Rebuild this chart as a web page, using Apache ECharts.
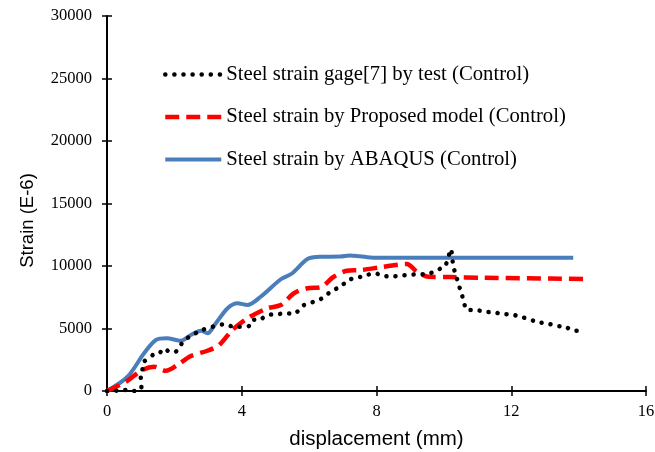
<!DOCTYPE html>
<html>
<head>
<meta charset="utf-8">
<script src="https://cdn.jsdelivr.net/npm/echarts@6/dist/echarts.min.js"></script>
<style>
  html, body { margin: 0; padding: 0; background: #fff; }
  #chart { width: 655px; height: 452px; }
</style>
</head>
<body>
<div id="chart"></div>
<script>
// series names
var seriesNames = [
  "Steel strain gage[7] by test (Control)",
  "Steel strain by Proposed model (Control)",
  "Steel strain by ABAQUS (Control)"
];

// test (gage) points [displacement, strain]
var testData = [
  [0, 0], [0.3, 30], [0.56, 80], [0.8, 0], [1.0, 130], [1.03, 600], [1.0, 1150], [1.05, 1700],
  [1.1, 2350], [1.24, 2620], [1.4, 2960], [1.55, 3020], [1.7, 3400], [1.85, 3150], [2.04, 3150],
  [2.14, 3540], [2.34, 4140], [2.59, 4560], [2.83, 4880], [3.03, 5060], [3.47, 5340], [3.77, 5140],
  [4.22, 5200], [4.32, 5680], [4.56, 5740], [4.76, 6080], [5.05, 6140], [5.3, 6220], [5.55, 6160],
  [5.85, 6880], [6.14, 7140], [6.39, 7420], [6.58, 7820], [6.83, 8220], [7.08, 8660], [7.23, 8940],
  [7.48, 9100], [7.73, 9280], [7.92, 9460], [8.12, 9280], [8.41, 9140], [8.66, 9220], [8.9, 9280],
  [9.25, 9340], [9.5, 9340], [9.8, 9680], [10.04, 10000], [10.21, 11340], [10.28, 9940], [10.36, 9280],
  [10.43, 8560], [10.52, 7860], [10.59, 7140], [10.68, 6480], [10.96, 6480], [11.23, 6320], [11.5, 6300],
  [11.75, 6140], [12.01, 6160], [12.22, 5940], [12.46, 5820], [12.66, 5620], [12.9, 5460], [13.13, 5360],
  [13.37, 5200], [13.64, 5100], [13.82, 4820], [14.09, 4820]
];

// proposed model
var modelData = [
  [0, 0], [0.56, 740], [1.05, 1680], [1.4, 1940], [1.75, 1620], [2.09, 2080], [2.49, 2800],
  [2.98, 3220], [3.33, 3680], [3.72, 4880], [4.17, 5820], [4.76, 6620], [5.16, 6880], [5.55, 7820],
  [5.95, 8220], [6.34, 8300], [6.73, 9140], [7.12, 9620], [7.53, 9680], [8.12, 9900], [8.9, 10160],
  [9.2, 9540], [9.55, 9140], [10.19, 9120], [11.08, 9060], [14.19, 8960]
];

// ABAQUS
var abaqusData = [
  [0, 0], [0.61, 1140], [1.1, 3020], [1.45, 4080], [1.77, 4220], [2.19, 4020], [2.49, 4480],
  [2.79, 4820], [2.98, 4620], [3.23, 5420], [3.58, 6620], [3.87, 7020], [4.17, 6880], [4.56, 7540],
  [5.16, 8940], [5.5, 9420], [5.95, 10560], [6.34, 10740], [6.93, 10760], [7.2, 10850], [7.5, 10780],
  [7.92, 10660], [13.84, 10660]
];

var xTicks = [0, 4, 8, 12, 16];
var yTicks = [0, 5000, 10000, 15000, 20000, 25000, 30000];

var myChart = echarts.init(document.getElementById("chart"));
var serif = "'Liberation Serif', 'Times New Roman', serif";
var sans = "'Liberation Sans', Arial, sans-serif";

// ticks cross the axis line: outer part on the main axis, inner part on a twin axis
var tickStyle = { color: "#000", width: 1.5 };

var option = {
  backgroundColor: "#fff",
  animation: false,
  grid: { left: 107, right: 9, top: 16, bottom: 61, outerBoundsMode: "none" },
  legend: {
    orient: "vertical",
    left: 158,
    top: 58.5,
    itemWidth: 56,
    itemHeight: 14,
    itemGap: 20.5,
    data: seriesNames,
    itemStyle: { opacity: 0 },
    lineStyle: { width: "inherit" },
    textStyle: { color: "#000", fontSize: 20.7, lineHeight: 22, fontFamily: serif }
  },
  xAxis: [
    {
      type: "value",
      min: xTicks[0],
      max: xTicks[xTicks.length - 1],
      interval: 4,
      name: "displacement (mm)",
      nameLocation: "middle",
      nameGap: 38,
      nameTextStyle: { color: "#000", fontSize: 20.5, fontFamily: sans },
      axisLine: { lineStyle: { color: "#000", width: 2 } },
      axisTick: { show: true, length: 5, lineStyle: tickStyle },
      axisLabel: { color: "#000", fontSize: 16.5, fontFamily: serif, margin: 12 },
      splitLine: { show: false }
    },
    {
      type: "value",
      position: "bottom",
      min: xTicks[0],
      max: xTicks[xTicks.length - 1],
      interval: 4,
      axisLine: { show: false },
      axisTick: { show: true, inside: true, length: 5, lineStyle: tickStyle },
      axisLabel: { show: false },
      splitLine: { show: false }
    }
  ],
  yAxis: [
    {
      type: "value",
      min: yTicks[0],
      max: yTicks[yTicks.length - 1],
      interval: 5000,
      name: "Strain (E-6)",
      nameLocation: "middle",
      nameGap: 70,
      nameTextStyle: { color: "#000", fontSize: 18.5, fontFamily: sans, padding: [0, 34, 0, 0] },
      axisLine: { show: true, lineStyle: { color: "#000", width: 2 } },
      axisTick: { show: true, length: 5, lineStyle: tickStyle },
      axisLabel: {
        color: "#000", fontSize: 16.5, fontFamily: serif, margin: 15,
        formatter: function (v) { return String(v); }
      },
      splitLine: { show: false }
    },
    {
      type: "value",
      position: "left",
      min: yTicks[0],
      max: yTicks[yTicks.length - 1],
      interval: 5000,
      axisLine: { show: false },
      axisTick: { show: true, inside: true, length: 5, lineStyle: tickStyle },
      axisLabel: { show: false },
      splitLine: { show: false }
    }
  ],
  series: [
    {
      name: seriesNames[0],
      type: "line",
      data: testData,
      smooth: 0.2,
      symbol: "none",
      z: 4,
      itemStyle: { color: "#000" },
      lineStyle: { color: "#000", width: 4.5, type: [0.1, 9], cap: "round" }
    },
    {
      name: seriesNames[1],
      type: "line",
      data: modelData,
      smooth: 0.3,
      symbol: "none",
      z: 3,
      itemStyle: { color: "#ff0000" },
      lineStyle: { color: "#ff0000", width: 4.5, type: [14, 7] }
    },
    {
      name: seriesNames[2],
      type: "line",
      data: abaqusData,
      smooth: 0.3,
      symbol: "none",
      z: 2,
      itemStyle: { color: "#4a7ebb" },
      lineStyle: { color: "#4a7ebb", width: 4 }
    }
  ]
};

option && myChart.setOption(option);
</script>
</body>
</html>
